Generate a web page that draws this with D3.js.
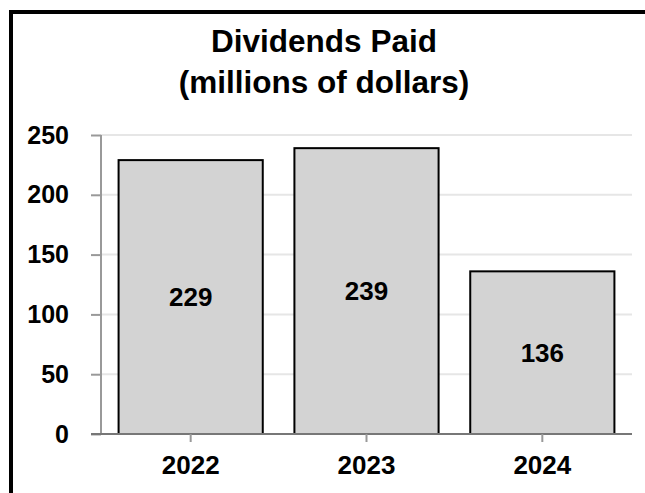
<!DOCTYPE html>
<html>
<head>
<meta charset="utf-8">
<script src="https://cdn.jsdelivr.net/npm/d3@7"></script>
<style>
  body { margin: 0; background: #fff; overflow: hidden; }
  text { font-family: "Liberation Sans", Arial, sans-serif; font-weight: bold; fill: #000; }
</style>
</head>
<body>
<svg id="chart" width="645" height="493"></svg>
<script>
// data
const years = ['2022', '2023', '2024'];
const dividends = [229, 239, 136];
const yTicks = [0, 50, 100, 150, 200, 250];
const titleLines = ['Dividends Paid', '(millions of dollars)'];

const svg = d3.select('svg#chart');
const width = 645, height = 493;
const plot = { left: 101, right: 632, top: 135, bottom: 434 };

let x = d3.scaleBand().domain(years)
    .range([plot.left, plot.right])
    .paddingInner(0.18).paddingOuter(0.1);
let y = d3.scaleLinear().domain([0, 250]).range([plot.bottom, plot.top]);

// outer frame (only top + left visible, rest is cropped)
svg.append('rect')
    .attr('x', 11).attr('y', 12)
    .attr('width', width + 20).attr('height', height + 20)
    .attr('fill', 'none').attr('stroke', '#000').attr('stroke-width', 4);

// title
svg.selectAll('text.title')
    .data(titleLines)
    .enter().append('text')
    .attr('class', 'title')
    .attr('x', 324)
    .attr('y', (d, i) => 52 + i * 41)
    .attr('text-anchor', 'middle')
    .style('font-size', '31.5px')
    .text(d => d);

// gridlines
svg.append('g').selectAll('line')
    .data(yTicks.filter(d => d > 0))
    .enter().append('line')
    .attr('x1', plot.left).attr('x2', plot.right)
    .attr('y1', d => y(d)).attr('y2', d => y(d))
    .attr('stroke', '#e6e6e6').attr('stroke-width', 2);

// y axis
let yAxis = svg.append('g')
    .attr('transform', `translate(${plot.left},0)`)
    .call(d3.axisLeft(y).tickValues(yTicks).tickSize(10).tickPadding(22));
yAxis.select('.domain').attr('stroke', '#999').attr('stroke-width', 2).attr('d', `M0,${plot.top}V${plot.bottom}`);
yAxis.selectAll('.tick line').attr('stroke', '#999').attr('stroke-width', 2);
yAxis.selectAll('.tick text')
    .attr('fill', '#000')
    .style('font-size', '25px')
    .style('font-family', '"Liberation Sans", Arial, sans-serif')
    .style('font-weight', 'bold');

// bars
svg.append('g').selectAll('rect')
    .data(dividends)
    .enter().append('rect')
    .attr('x', (d, i) => x(years[i]))
    .attr('y', d => y(d))
    .attr('width', x.bandwidth())
    .attr('height', d => y(0) - y(d))
    .attr('fill', '#d3d3d3')
    .attr('stroke', '#000')
    .attr('stroke-width', 2);

// bar value labels
svg.append('g').selectAll('text')
    .data(dividends)
    .enter().append('text')
    .attr('x', (d, i) => x(years[i]) + x.bandwidth() / 2)
    .attr('y', d => (y(d) + y(0)) / 2)
    .attr('dy', '0.36em')
    .attr('text-anchor', 'middle')
    .style('font-size', '26px')
    .text(d => d);

// x axis
let xAxis = svg.append('g')
    .attr('transform', `translate(0,${plot.bottom})`)
    .call(d3.axisBottom(x).tickSize(8).tickPadding(14));
xAxis.select('.domain').attr('stroke', '#777').attr('stroke-width', 2).attr('d', `M${plot.left - 10},0H${plot.right}`);
xAxis.selectAll('.tick line').attr('stroke', '#999').attr('stroke-width', 2);
xAxis.selectAll('.tick text')
    .attr('fill', '#000')
    .style('font-size', '26px')
    .style('font-family', '"Liberation Sans", Arial, sans-serif')
    .style('font-weight', 'bold');
</script>
</body>
</html>
